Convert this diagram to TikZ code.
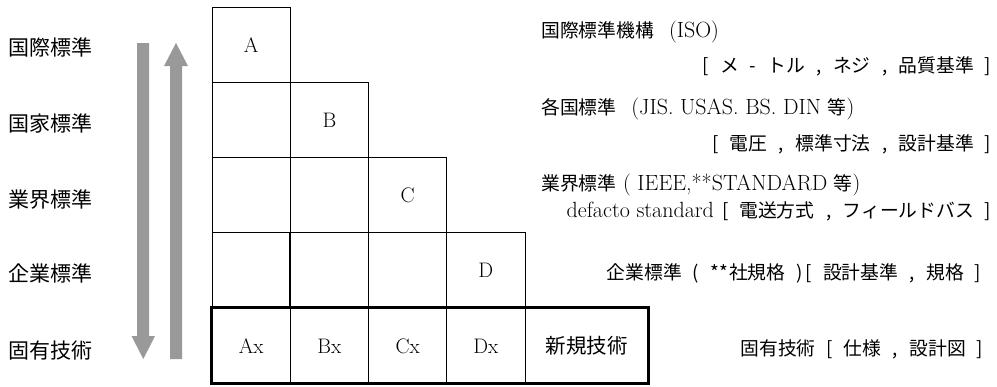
\documentclass[tikz,border=0pt]{standalone}
\usepackage{fontspec}
\newfontfamily\jp{Noto Sans CJK JP}
\newcommand\hw[1]{\makebox[.5em]{#1}}
\newcommand\hsp{\hspace*{.5em}}
\newcommand\JP[1]{{\jp\fontsize{18.8}{22}\selectfont #1}}
\definecolor{arrowgray}{HTML}{999999}
\tikzset{
  cellbox/.style={draw, line width=0.9pt, minimum width=78.25pt, minimum height=75.3pt, inner sep=0pt, font=\fontsize{21}{24}\selectfont},
  newbox/.style={cellbox, minimum width=123pt, font=\jp\fontsize{20.5}{24}\selectfont},
  leftlab/.style={anchor=base west, inner sep=0pt, font=\jp\fontsize{21}{24}\selectfont},
  rtext/.style={inner sep=0pt, font=\fontsize{22}{24}\selectfont},
  thickbox/.style={line width=3pt},
  midline/.style={line width=1.7pt},
  grayarrow/.style={fill=arrowgray, draw=none}
}
\begin{document}
\begin{tikzpicture}[x=1pt,y=-1pt]
\useasboundingbox (0,0) rectangle (997,386);
% left labels
\node[leftlab] (l1) at (8,55) {国際標準};
\node[leftlab] (l2) at (8,131) {国家標準};
\node[leftlab] (l3) at (8,207) {業界標準};
\node[leftlab] (l4) at (8,281) {企業標準};
\node[leftlab] (l5) at (8,358) {固有技術};
% gray arrows
\fill[grayarrow] (137,43) -- (149,43) -- (149,336) -- (155,336) -- (143.3,359) -- (131.5,336) -- (137,336) -- cycle;
\fill[grayarrow] (170,359) -- (182,359) -- (182,66) -- (188,66) -- (176,43) -- (164,66) -- (170,66) -- cycle;
% row 1
\node[cellbox] (cA) at (251.125,44.65) {A};
% row 2
\node[cellbox] (c21) at (251.125,119.95) {};
\node[cellbox] (cB) at (329.375,119.95) {B};
% row 3
\node[cellbox] (c31) at (251.125,195.25) {};
\node[cellbox] (c32) at (329.375,195.25) {};
\node[cellbox] (cC) at (407.625,195.25) {C};
% row 4
\node[cellbox] (c41) at (251.125,270.55) {};
\node[cellbox] (c42) at (329.375,270.55) {};
\node[cellbox] (c43) at (407.625,270.55) {};
\node[cellbox] (cD) at (485.875,270.55) {D};
% row 5
\node[cellbox] (cAx) at (251.125,345.85) {Ax};
\node[cellbox] (cBx) at (329.375,345.85) {Bx};
\node[cellbox] (cCx) at (407.625,345.85) {Cx};
\node[cellbox] (cDx) at (485.875,345.85) {Dx};
\node[newbox] (cN) at (586.5,345.85) {新規技術};
% emphasised lines
\draw[midline] (c42.north west) -- (c42.south west);
\draw[midline] (c42.north west) -- (c42.north east);
\draw[thickbox] (cAx.south west) rectangle (cN.north east);
% right texts
\node[rtext, anchor=base west] (r1) at (541,37) {\JP{国際標準機構}\hspace{15pt}(ISO)};
\node[rtext, anchor=base east] (r2) at (993,72) {\JP{\hw{[}\hsp メ\hsp\hw{-}\hsp トル\hsp\hw{,}\hsp ネジ\hsp\hw{,}\hsp 品質基準\hsp\hw{]}}};
\node[rtext, anchor=base west] (r3) at (541,114) {\JP{各国標準}\hspace{15pt}(JIS. USAS. BS. DIN \JP{等})};
\node[rtext, anchor=base east] (r4) at (993,150) {\JP{\hw{[}\hsp 電圧\hsp\hw{,}\hsp 標準寸法\hsp\hw{,}\hsp 設計基準\hsp\hw{]}}};
\node[rtext, anchor=base west] (r5) at (541,190) {\JP{業界標準} ( IEEE,**STANDARD \JP{等})};
\node[rtext, anchor=base east] (r6) at (993,217) {defacto standard \JP{\hw{[}\hsp 電送方式\hsp\hw{,}\hsp フィールドバス\hsp\hw{]}}};
\node[rtext, anchor=base east] (r7) at (983,279) {\JP{企業標準\hsp\hw{(}\hsp\hw{*}\hw{*}社規格\hsp\hw{)}\hw{[}\hsp 設計基準\hsp\hw{,}\hsp 規格\hsp\hw{]}}};
\node[rtext, anchor=base east] (r8) at (985,355) {\JP{固有技術\hsp\hw{[}\hsp 仕様\hsp\hw{,}\hsp 設計図\hsp\hw{]}}};
\end{tikzpicture}
\end{document}
